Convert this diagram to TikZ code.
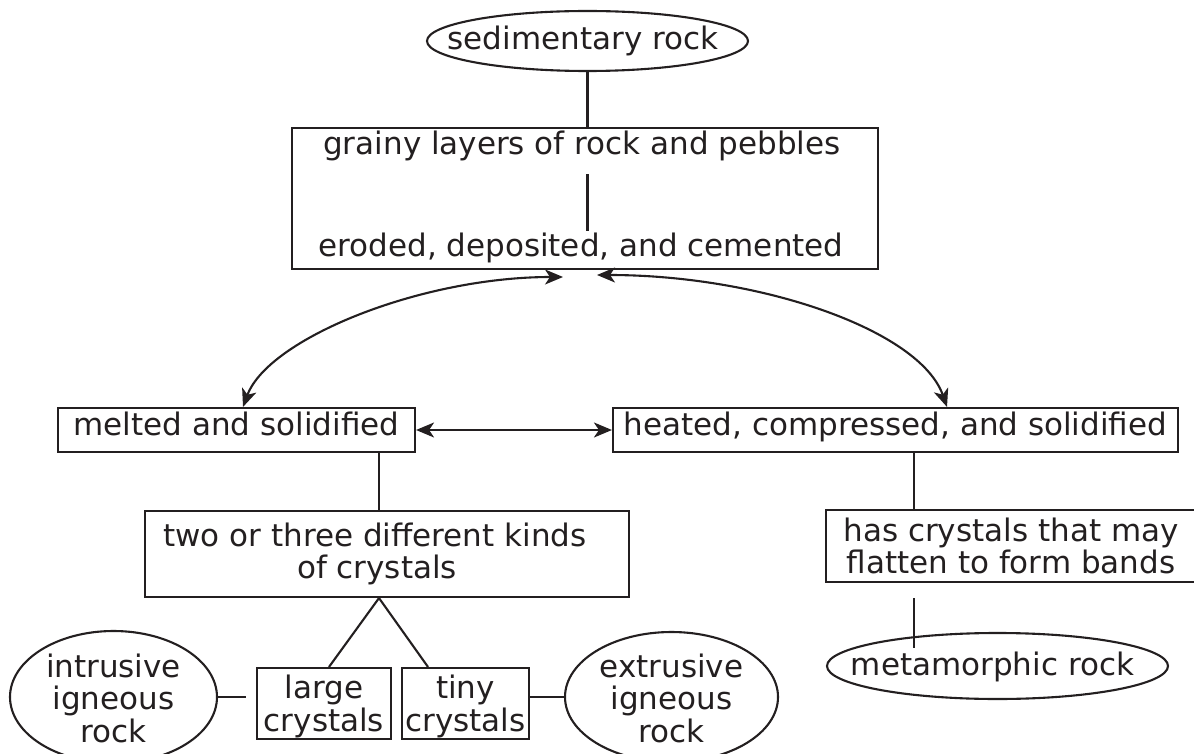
\documentclass[tikz,border=0pt]{standalone}
\usepackage{fontspec}
\setmainfont{DejaVu Sans}
\usetikzlibrary{arrows.meta,shapes.geometric}
\definecolor{ink}{HTML}{231F20}
\tikzset{>={Stealth[length=18pt,width=15pt,inset=5pt]}}
\tikzset{rockbox/.style={draw=ink,rectangle,text height=20pt,text depth=10pt}}
\tikzset{rocklines/.style={draw=ink,rectangle,align=center}}
\tikzset{rockoval/.style={draw=ink,ellipse}}

\begin{document}
\begin{tikzpicture}[x=1pt,y=-1pt,line width=2.1pt,color=ink,
    every node/.style={font=\fontsize{31}{32.5}\selectfont,text=ink,inner sep=0pt}]
    \useasboundingbox (0,0) rectangle (1194,754);
    \node[rockoval,minimum width=321pt,minimum height=60pt] (sed) at (587.5,41) {};
    \node (sed-t) at (583,41) {sedimentary rock};
    \node[rockbox,minimum width=586pt,minimum height=141pt] (layers) at (585,198.5) {};
    \node[anchor=base] (grainy) at (582,155) {grainy layers of rock and pebbles};
    \node[anchor=base] (eroded) at (581,256) {eroded, deposited, and cemented};
    \node[rockbox,minimum width=357pt,minimum height=44pt] (melted) at (236.5,430) {melted and solidified};
    \node[rockbox,minimum width=565pt,minimum height=44pt] (heated) at (895.5,430) {heated, compressed, and solidified};
    \node[rocklines,minimum width=484pt,minimum height=86pt] (kinds) at (387,554)
        {two or three different kinds\hspace*{24pt}\\of crystals\hspace*{20pt}};
    \node[rocklines,minimum width=370pt,minimum height=72pt] (has) at (1011,546) {has crystals that may\\flatten to form bands};
    \node[rocklines,minimum width=134pt,minimum height=71pt] (large) at (324,703.5) {large\\cr\smash{y}stals};
    \node[rocklines,minimum width=127pt,minimum height=71pt] (tiny) at (465.5,703.5) {tiny\\cr\smash{y}stals};
    \node[rockoval,minimum width=207pt,minimum height=132pt] (intr) at (113.5,697) {};
    \node[align=center] (intr-t) at (113.5,698) {intrusive\\igneous\\rock};
    \node[rockoval,minimum width=213pt,minimum height=130pt] (extr) at (671.5,697) {};
    \node[align=center] (extr-t) at (671.5,698) {extrusive\\igneous\\rock};
    \node[rockoval,minimum width=341pt,minimum height=66pt] (meta) at (997.5,666) {};
    \node (meta-t) at (992.5,667) {metamorphic rock};
    \coordinate (tl) at (563,277);
    \coordinate (tr) at (597,275);

    \draw (sed.south) -- (sed.south |- layers.north);
    \draw[shorten <=12pt] (grainy.south -| sed.south) -- (eroded.north -| sed.south);
    \draw[<->] ([xshift=6.5pt]melted.north) .. controls +(25,-68) and +(-143,0) .. (tl);
    \draw[<->] (tr) .. controls +(163,0) and +(-27,-77) .. ([xshift=51.5pt]heated.north);
    \draw[<->] (melted.east) -- (heated.west);
    \draw (melted.south -| 379,0) -- (kinds.north -| 379,0);
    \draw (kinds.south -| 379,0) -- (large.north -| 329,0);
    \draw (kinds.south -| 379,0) -- (tiny.north -| 428,0);
    \draw (intr.east) -- ++(28,0);
    \draw (tiny.east |- extr.west) -- (extr.west);
    \draw (heated.south -| 914,0) -- (has.north -| 914,0);
    \draw (has.south -| 914,0) ++(0,15) -- ++(0,50);
\end{tikzpicture}
\end{document}
